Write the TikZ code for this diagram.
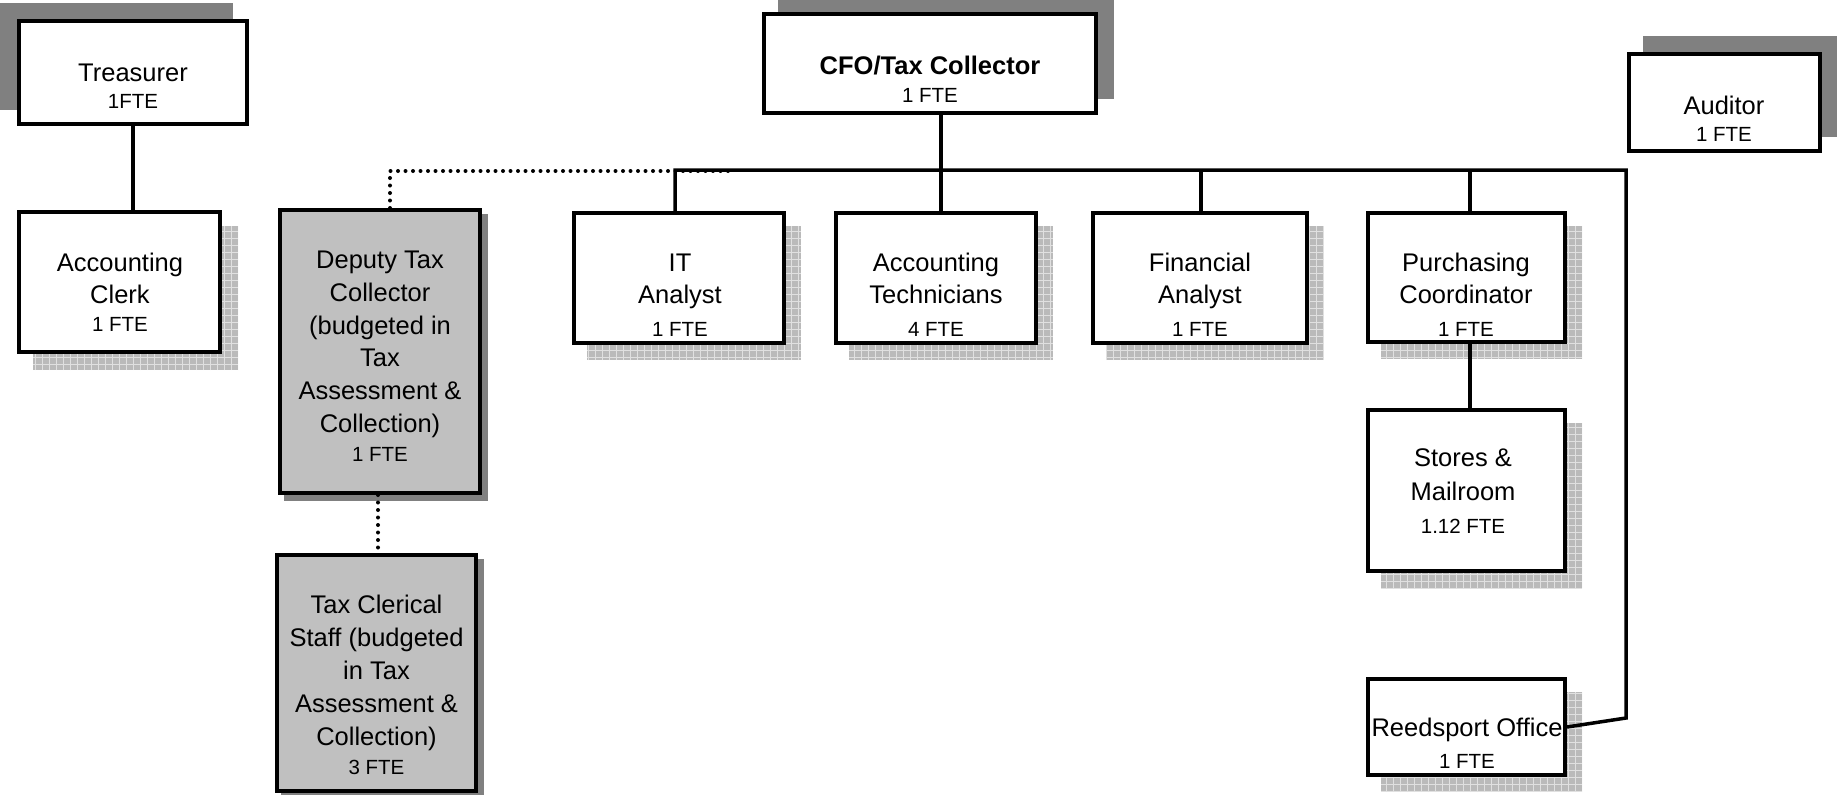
\documentclass[tikz,border=0pt]{standalone}
\usepackage{fontspec}
\setmainfont{Liberation Sans}
\definecolor{shdark}{RGB}{128,128,128}
\definecolor{boxgray}{RGB}{192,192,192}
\definecolor{hatchbg}{RGB}{186,186,186}
\definecolor{hatchln}{RGB}{224,224,224}
\tikzset{
  orgbox/.style={draw=black, line width=4pt, fill=white, inner sep=0pt},
  graybox/.style={orgbox, fill=boxgray},
  conn/.style={line width=3.5pt},
  dotline/.style={line width=4pt, line cap=round, dash pattern=on 0pt off 7.5pt},
  big/.style={font=\fontsize{25.5pt}{31pt}\selectfont, anchor=base, inner sep=0pt},
  small/.style={font=\fontsize{20.5pt}{24pt}\selectfont, anchor=base, inner sep=0pt},
  bigb/.style={font=\fontsize{25.5pt}{31pt}\selectfont\bfseries, anchor=base, inner sep=0pt},
}
\newcommand\mkbox[6]{\node[#6, minimum width={(#4-#2-4)*1pt}, minimum height={(#5-#3-4)*1pt}] (#1) at ({(#2+#4)/2},{(#3+#5)/2}) {};}
\newcommand\darkshadow[4]{\fill[shdark] (#1,#2) rectangle (#3,#4);}
\newcommand\hatchshadow[4]{\begin{scope}\clip (#1,#2) rectangle (#3,#4);
  \fill[hatchbg] (#1,#2) rectangle (#3,#4);
  \draw[hatchln, line width=0.8pt, step=7pt] (#1,#4) grid (#3,#2);\end{scope}}
\newcommand\tline[5]{\node[#2] (#1) at (#3,#4) {#5};}
\begin{document}
\begin{tikzpicture}[x=1pt,y=-1pt]
\useasboundingbox (0,0) rectangle (1837,795);
\fill[white] (0,0) rectangle (1837,795);
% shadows
\darkshadow{0}{3}{233}{110}
\darkshadow{778}{-4}{1114}{99}
\darkshadow{1643}{36}{1840}{137}
\darkshadow{284}{214}{488}{501}
\darkshadow{281}{559}{484}{799}
\hatchshadow{33}{226}{238}{370}
\hatchshadow{587}{226}{801}{360}
\hatchshadow{849}{226}{1053}{360}
\hatchshadow{1106}{226}{1324}{360}
\hatchshadow{1381}{226}{1582}{359}
\hatchshadow{1381}{423}{1582}{588}
\hatchshadow{1381}{692}{1582}{792}
% boxes
\mkbox{treas}{17}{19}{249}{126}{orgbox}
\mkbox{clerk}{17}{210}{222}{354}{orgbox}
\mkbox{dep}{278}{208}{482}{495}{graybox}
\mkbox{taxc}{275}{553}{478}{793}{graybox}
\mkbox{cfo}{762}{12}{1098}{115}{orgbox}
\mkbox{aud}{1627}{52}{1822}{153}{orgbox}
\mkbox{it}{572}{211}{786}{345}{orgbox}
\mkbox{tech}{834}{211}{1038}{345}{orgbox}
\mkbox{fin}{1091}{211}{1309}{345}{orgbox}
\mkbox{purch}{1366}{211}{1567}{344}{orgbox}
\mkbox{stores}{1366}{408}{1567}{573}{orgbox}
\mkbox{reed}{1366}{677}{1567}{777}{orgbox}
% junction coordinates
\coordinate (jIT) at (675,170);
\coordinate (jTech) at (941,170);
\coordinate (jFin) at (1201,170);
\coordinate (jPur) at (1470,170);
\coordinate (jR) at (1626,170);
\coordinate (jRb) at (1626,718);
\coordinate (dTop) at (390,171);
\coordinate (dEnd) at (735,171);
\coordinate (dMid) at (378,500);
% dotted connectors
\draw[dotline] (dep.north -| dTop) -- (dTop) -- (dEnd);
\draw[dotline] (dep.south -| dMid) -- (taxc.north -| dMid);
% solid connectors
\draw[conn] (treas.south) -- (treas.south |- clerk.north);
\draw[conn] (cfo.south -| jTech) -- (jTech |- tech.north);
\draw[conn] (jIT |- it.north) -- (jIT) -- (jR) -- (jRb) -- (reed.east);
\draw[conn] (jFin) -- (jFin |- fin.north);
\draw[conn] (jPur) -- (jPur |- purch.north);
\draw[conn] (jPur |- purch.south) -- (jPur |- stores.north);
% texts
\tline{t1}{big}{133}{81}{Treasurer}
\tline{t2}{small}{133}{108.5}{1FTE}
\tline{t3}{big}{120}{271.5}{Accounting}
\tline{t4}{big}{120}{303.5}{Clerk}
\tline{t5}{small}{120}{331.5}{1 FTE}
\tline{t6}{big}{380}{268.5}{Deputy Tax}
\tline{t7}{big}{380}{301.5}{Collector}
\tline{t8}{big}{380}{334}{(budgeted in}
\tline{t9}{big}{380}{366.5}{Tax}
\tline{t10}{big}{380}{399}{Assessment \&}
\tline{t11}{big}{380}{432}{Collection)}
\tline{t12}{small}{380}{461}{1 FTE}
\tline{t13}{big}{376.5}{613.5}{Tax Clerical}
\tline{t14}{big}{376.5}{646.5}{Staff (budgeted}
\tline{t15}{big}{376.5}{679.5}{in Tax}
\tline{t16}{big}{376.5}{712}{Assessment \&}
\tline{t17}{big}{376.5}{745}{Collection)}
\tline{t18}{small}{376.5}{774}{3 FTE}
\tline{t19}{bigb}{930}{74}{CFO/Tax Collector}
\tline{t20}{small}{930}{102.5}{1 FTE}
\tline{t21}{big}{1724}{114}{Auditor}
\tline{t22}{small}{1724}{141.5}{1 FTE}
\tline{t23}{big}{680}{271}{IT}
\tline{t24}{big}{680}{303.5}{Analyst}
\tline{t25}{small}{680}{336}{1 FTE}
\tline{t26}{big}{936}{271}{Accounting}
\tline{t27}{big}{936}{303.5}{Technicians}
\tline{t28}{small}{936}{336}{4 FTE}
\tline{t29}{big}{1200}{271}{Financial}
\tline{t30}{big}{1200}{303.5}{Analyst}
\tline{t31}{small}{1200}{336}{1 FTE}
\tline{t32}{big}{1466}{271}{Purchasing}
\tline{t33}{big}{1466}{303.5}{Coordinator}
\tline{t34}{small}{1466}{336}{1 FTE}
\tline{t35}{big}{1463}{466.5}{Stores \&}
\tline{t36}{big}{1463}{500.5}{Mailroom}
\tline{t37}{small}{1463}{533}{1.12 FTE}
\tline{t38}{big}{1467}{736}{Reedsport Office}
\tline{t39}{small}{1467}{768}{1 FTE}
\end{tikzpicture}
\end{document}
